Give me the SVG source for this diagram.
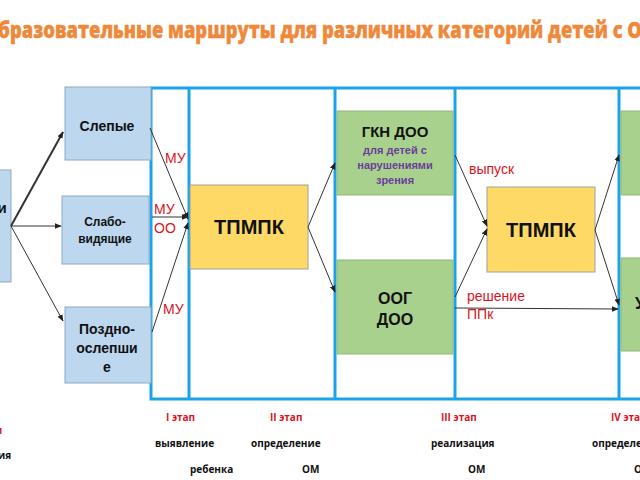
<svg xmlns="http://www.w3.org/2000/svg" width="640" height="480" viewBox="0 0 640 480">
<defs>
<style>
.blue{fill:#bdd7ee;stroke:#8da9c4;stroke-width:1}
.green{fill:#a9d18e;stroke:#8fb873;stroke-width:1}
.yellow{fill:#ffd966;stroke:#a0a0a0;stroke-width:1}
.frame{fill:none;stroke:#1aa3e8;stroke-width:3}
.t{font-family:"Liberation Sans",Arial,sans-serif;font-weight:bold;fill:#111;text-anchor:middle}
.red{font-family:"Liberation Sans",Arial,sans-serif;fill:#d9141c;font-size:14px}
.bt{font-family:"Open Sans","Liberation Sans",sans-serif;font-weight:bold;font-size:10px;fill:#111}
.br{font-family:"Open Sans","Liberation Sans",sans-serif;font-weight:bold;font-size:10px;fill:#d9141c}
.c{stroke:#333;stroke-width:1;fill:none;marker-end:url(#a)}
</style>
<marker id="a" viewBox="0 0 10 10" refX="9" refY="5" markerWidth="7" markerHeight="7" markerUnits="userSpaceOnUse" orient="auto"><path d="M0,1 L10,5 L0,9 z" fill="#222"/></marker>
</defs>
<rect width="640" height="480" fill="#fff"/>
<text x="-2" y="38" font-family="Open Sans,Liberation Sans,sans-serif" font-weight="800" font-size="22" fill="#f0883a" stroke="#f0883a" stroke-width="0.4" textLength="644" lengthAdjust="spacingAndGlyphs">бразовательные маршруты для различных категорий детей с О</text>

<g id="frame">
<rect class="frame" x="151" y="88" width="500" height="311"/>
<line class="frame" x1="189" y1="88" x2="189" y2="399"/>
<line class="frame" x1="335" y1="88" x2="335" y2="399"/>
<line class="frame" x1="455" y1="88" x2="455" y2="399"/>
<line class="frame" x1="619" y1="88" x2="619" y2="399"/>
</g>

<g id="n-left"><rect class="blue" x="-10" y="170" width="21" height="112"/><text class="t" x="2" y="213" font-size="15">и</text></g>
<g id="n-blind"><rect class="blue" x="65" y="87" width="86" height="73"/><text class="t" x="107" y="131" font-size="14">Слепые</text></g>
<g id="n-weak"><rect class="blue" x="62" y="196" width="87" height="68"/><text class="t" x="105" y="226" font-size="12">Слабо-</text><text class="t" x="105" y="243" font-size="12">видящие</text></g>
<g id="n-late"><rect class="blue" x="65" y="307" width="86" height="76"/><text class="t" x="107" y="334" font-size="14">Поздно-</text><text class="t" x="107" y="353" font-size="14">ослепши</text><text class="t" x="107" y="372" font-size="14">е</text></g>
<g id="n-tpmpk1"><rect class="yellow" x="190" y="185" width="118" height="84"/><text class="t" x="249" y="234" font-size="20">ТПМПК</text></g>
<g id="n-gkn"><rect class="green" x="337" y="111" width="116" height="84"/><text class="t" x="395" y="137" font-size="15">ГКН ДОО</text><text class="t" x="395" y="154" font-size="11" style="fill:#6a3d9a">для детей с</text><text class="t" x="395" y="169" font-size="11" style="fill:#6a3d9a">нарушениями</text><text class="t" x="395" y="184" font-size="11" style="fill:#6a3d9a">зрения</text></g>
<g id="n-oog"><rect class="green" x="337" y="260" width="116" height="94"/><text class="t" x="395" y="304" font-size="16">ООГ</text><text class="t" x="395" y="325" font-size="16">ДОО</text></g>
<g id="n-tpmpk2"><rect class="yellow" x="487" y="187" width="108" height="85"/><text class="t" x="541" y="237" font-size="20">ТПМПК</text></g>
<g id="n-r1"><rect class="green" x="621" y="111" width="30" height="84"/></g>
<g id="n-r2"><rect class="green" x="621" y="258" width="30" height="93"/><text class="t" x="640" y="309" font-size="16">У</text></g>

<g id="connectors">
<line class="c" x1="11" y1="226" x2="63" y2="132" style="stroke-width:2"/>
<line class="c" x1="11" y1="226" x2="61" y2="226"/>
<line class="c" x1="11" y1="226" x2="63" y2="321"/>
<line class="c" x1="150" y1="128" x2="188" y2="219"/>
<line class="c" x1="152" y1="217" x2="188" y2="217"/>
<line class="c" x1="152" y1="332" x2="188" y2="223"/>
<line class="c" x1="308" y1="227" x2="335" y2="163"/>
<line class="c" x1="308" y1="227" x2="335" y2="292"/>
<line class="c" x1="455" y1="155" x2="487" y2="226"/>
<line class="c" x1="455" y1="297" x2="487" y2="229"/>
<line class="c" x1="455" y1="308" x2="618" y2="309"/>
<line class="c" x1="595" y1="230" x2="619" y2="155"/>
<line class="c" x1="595" y1="230" x2="619" y2="305"/>
</g>

<g id="labels">
<text class="red" x="165" y="163">МУ</text>
<text class="red" x="154" y="214">МУ</text>
<text class="red" x="154" y="233">ОО</text>
<text class="red" x="163" y="314">МУ</text>
<text class="red" x="469" y="174">выпуск</text>
<text class="red" x="467" y="301">решение</text>
<text class="red" x="467" y="319">ППк</text>
<text class="br" x="166" y="421">I этап</text>
<text class="br" x="270" y="421">II этап</text>
<text class="br" x="441" y="421">III этап</text>
<text class="br" x="611" y="421">IV этап</text>
<text class="bt" x="155" y="447">выявление</text>
<text class="bt" x="251" y="447">определение</text>
<text class="bt" x="431" y="447">реализация</text>
<text class="bt" x="592" y="447">определение</text>
<text class="bt" x="190" y="473">ребенка</text>
<text class="bt" x="302" y="473">ОМ</text>
<text class="bt" x="468" y="473">ОМ</text>
<text class="bt" x="634" y="473">ОМ</text>
<text class="br" x="-5" y="434">и</text>
<text class="bt" x="-2" y="459">ия</text>
</g>
</svg>
